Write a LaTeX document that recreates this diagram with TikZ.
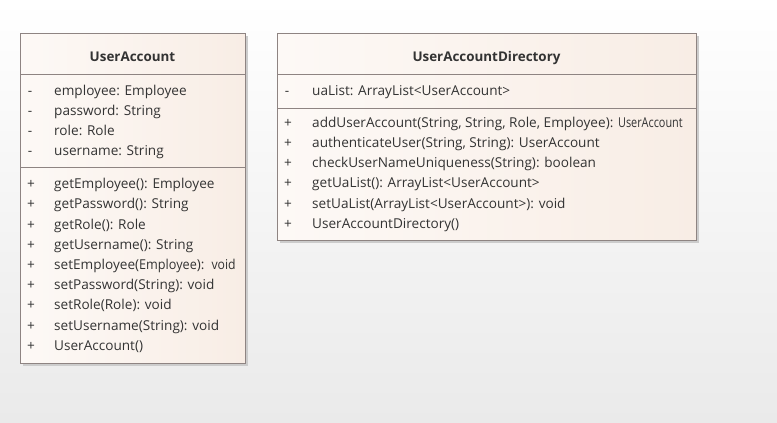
\documentclass[tikz,border=0pt]{standalone}
\usepackage{fontspec}
\setmainfont{Open Sans}
\definecolor{bgbot}{HTML}{EAEAEA}
\definecolor{boxA}{HTML}{FDF9F6}
\definecolor{boxB}{HTML}{F8EDE5}
\definecolor{boxline}{HTML}{8E8482}
\definecolor{txt}{HTML}{333333}
\tikzset{
  row/.style={anchor=west, inner sep=0pt, text=txt, font=\fontsize{13.6}{15}\selectfont, text height=12.5pt, text depth=3pt},
  vis/.style={anchor=center, inner sep=0pt, text=txt, font=\fontsize{13.6}{15}\selectfont, text height=12.5pt, text depth=3pt},
  title/.style={anchor=center, inner sep=0pt, text=txt, font=\fontsize{13.4}{15}\selectfont\bfseries, text height=10pt, text depth=0pt},
  classbox/.style={draw=boxline, line width=0.8pt, left color=boxA, right color=boxB},
  boxshadow/.style={fill=black!20},
  sep/.style={draw=boxline, line width=0.8pt}
}
\begin{document}
\begin{tikzpicture}[x=1pt,y=-1pt]
\shade[top color=white, bottom color=bgbot] (0,0) rectangle (777,423);
\useasboundingbox (0,0) rectangle (777,423);
% UserAccount
\fill[boxshadow] (23,36) rectangle (248,366);
\shade[classbox] (20,33) rectangle (245,363);
\draw[sep] (20,74) -- (245,74);
\draw[sep] (20,167) -- (245,167);
\node[title] (t1) at (132.5,56) {UserAccount};
\node[vis] (a1v1) at (30,90.7) {-};
\node[row] (a1r1) at (54,90.7) {employee: Employee};
\node[vis] (a1v2) at (30,110.7) {-};
\node[row] (a1r2) at (54,110.7) {password: String};
\node[vis] (a1v3) at (30,130.7) {-};
\node[row] (a1r3) at (54,130.7) {role: Role};
\node[vis] (a1v4) at (30,150.7) {-};
\node[row] (a1r4) at (54,150.7) {username: String};
\node[vis] (o1v1) at (31,184) {+};
\node[row] (o1r1) at (54,184) {getEmployee(): Employee};
\node[vis] (o1v2) at (31,204.2) {+};
\node[row] (o1r2) at (54,204.2) {getPassword(): String};
\node[vis] (o1v3) at (31,224.4) {+};
\node[row] (o1r3) at (54,224.4) {getRole(): Role};
\node[vis] (o1v4) at (31,244.6) {+};
\node[row] (o1r4) at (54,244.6) {getUsername(): String};
\node[vis] (o1v5) at (31,264.8) {+};
\node[row] (o1r5) at (54,264.8) {setEmployee(\scalebox{0.93}[1]{Employee}):\, \scalebox{0.9}[1]{void}};
\node[vis] (o1v6) at (31,285) {+};
\node[row] (o1r6) at (54,285) {setPassword(String): void};
\node[vis] (o1v7) at (31,305.2) {+};
\node[row] (o1r7) at (54,305.2) {setRole(Role): void};
\node[vis] (o1v8) at (31,325.4) {+};
\node[row] (o1r8) at (54,325.4) {setUsername(String): void};
\node[vis] (o1v9) at (31,345.6) {+};
\node[row] (o1r9) at (54,345.6) {UserAccount()};
% UserAccountDirectory
\fill[boxshadow] (280,36) rectangle (699,243);
\shade[classbox] (277,33) rectangle (696,240);
\draw[sep] (277,74) -- (696,74);
\draw[sep] (277,108) -- (696,108);
\node[title] (t2) at (486.5,56) {UserAccountDirectory};
\node[vis] (a2v1) at (287,90.7) {-};
\node[row] (a2r1) at (312,90.7) {uaList: ArrayList<UserAccount>};
\node[vis] (o2v1) at (288,122.3) {+};
\node[row] (o2r1) at (312,122.3) {addUserAccount(String, String, Role, Employee): \scalebox{0.8}[1]{UserAccount}};
\node[vis] (o2v2) at (288,142.6) {+};
\node[row] (o2r2) at (312,142.6) {authenticateUser(String, String): UserAccount};
\node[vis] (o2v3) at (288,162.9) {+};
\node[row] (o2r3) at (312,162.9) {checkUserNameUniqueness(String): boolean};
\node[vis] (o2v4) at (288,183.2) {+};
\node[row] (o2r4) at (312,183.2) {getUaList(): ArrayList<UserAccount>};
\node[vis] (o2v5) at (288,203.5) {+};
\node[row] (o2r5) at (312,203.5) {setUaList(ArrayList<UserAccount>): void};
\node[vis] (o2v6) at (288,223.8) {+};
\node[row] (o2r6) at (312,223.8) {UserAccountDirectory()};
\end{tikzpicture}
\end{document}
